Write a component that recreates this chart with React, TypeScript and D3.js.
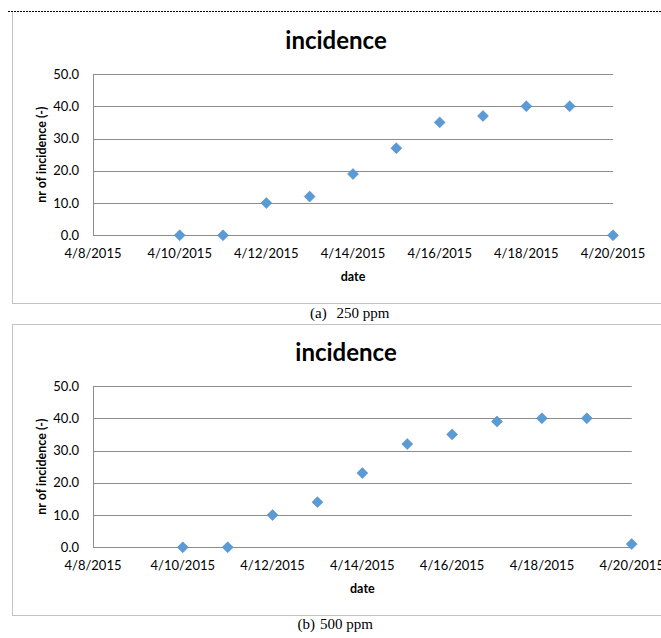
import React from "react";
import * as d3 from "d3";

const dates = ["2015-04-10","2015-04-11","2015-04-12","2015-04-13","2015-04-14","2015-04-15","2015-04-16","2015-04-17","2015-04-18","2015-04-19","2015-04-20"];
const values250 = [0, 0, 10, 12, 19, 27, 35, 37, 40, 40, 0];
const values500 = [0, 0, 10, 14, 23, 32, 35, 39, 40, 40, 1];
const xTickDates = ["2015-04-08","2015-04-10","2015-04-12","2015-04-14","2015-04-16","2015-04-18","2015-04-20"];
const yTicks = [0, 10, 20, 30, 40, 50];
const titleText = "incidence";
const yLabelText = "nr of incidence (-)";
const xLabelText = "date";
const captionLetters = ["(a)", "(b)"];
const captionTexts = ["250 ppm", "500 ppm"];

const parse = d3.timeParse("%Y-%m-%d");
const fmt = (d: Date) => `${d.getMonth() + 1}/${d.getDate()}/${d.getFullYear()}`;
const FONT = "Lato, 'Open Sans', sans-serif";
const SERIF = "'Liberation Serif', 'Times New Roman', serif";
const GRID = "#8c8c8c";
const FRAME = "#c4c4c4";
const MARK = "#5B9BD5";

type PanelProps = {
  values: number[];
  x0: number; x1: number; yTop: number; yBot: number;
  titleX: number;
};

function Panel({ values, x0, x1, yTop, yBot, titleX }: PanelProps) {
  const x = d3.scaleTime().domain([parse("2015-04-08")!, parse("2015-04-20")!]).range([x0, x1]);
  const y = d3.scaleLinear().domain([0, 50]).range([yBot, yTop]);
  const sym = d3.symbol().type(d3.symbolSquare).size(60)();
  return (
    <g>
      <text x={titleX} y={yTop - 25} textAnchor="middle" fontFamily={FONT} fontWeight="bold" fontSize={24} fill="#000">{titleText}</text>
      {yTicks.map((t) => (
        <g key={t}>
          {t > 0 && <line x1={x0} x2={x1} y1={Math.round(y(t)) + 0.5} y2={Math.round(y(t)) + 0.5} stroke={GRID} strokeWidth={1} />}
          <text x={79} y={y(t)} dy="0.35em" textAnchor="end" fontFamily={FONT} fontSize={13} fill="#000">{t.toFixed(1)}</text>
        </g>
      ))}
      <line x1={x0 + 0.5} x2={x0 + 0.5} y1={yTop} y2={yBot} stroke={GRID} strokeWidth={1} />
      <line x1={x0} x2={x1} y1={Math.round(yBot) + 0.5} y2={Math.round(yBot) + 0.5} stroke={GRID} strokeWidth={1} />
      {xTickDates.map((s) => {
        const d = parse(s)!;
        return <text key={s} x={x(d)} y={yBot + 23} textAnchor="middle" fontFamily={FONT} fontSize={13} fill="#000">{fmt(d)}</text>;
      })}
      <text x={(x0 + x1) / 2} y={yBot + 46} textAnchor="middle" fontFamily={FONT} fontWeight="bold" fontSize={12.5} fill="#000">{xLabelText}</text>
      <text transform={`translate(46,${(yTop + yBot) / 2}) rotate(-90)`} textAnchor="middle" fontFamily={FONT} fontWeight="bold" fontSize={12.5} fill="#000">{yLabelText}</text>
      {values.map((v, i) => (
        <path key={i} d={sym as string} transform={`translate(${x(parse(dates[i])!)},${y(v)}) rotate(45)`} fill={MARK} stroke="#4a86c5" strokeWidth={0.5} />
      ))}
    </g>
  );
}

export default function App() {
  return (
    <svg width={661} height={638} style={{ position: "absolute", left: 0, top: 0, background: "#fff" }}>
      <rect x={0} y={0} width={661} height={638} fill="#fff" />
      <line x1={8} x2={661} y1={11.5} y2={11.5} stroke="#000" strokeWidth={1} strokeDasharray="2,1" />
      <line x1={12.5} x2={12.5} y1={12} y2={303.5} stroke={FRAME} />
      <line x1={12} x2={661} y1={303.5} y2={303.5} stroke={FRAME} />
      <line x1={12} x2={661} y1={324.5} y2={324.5} stroke={FRAME} />
      <line x1={12.5} x2={12.5} y1={324.5} y2={615.5} stroke={FRAME} />
      <line x1={12} x2={661} y1={615.5} y2={615.5} stroke={FRAME} />
      <Panel values={values250} x0={93} x1={613} yTop={74} yBot={235.3} titleX={336} />
      <Panel values={values500} x0={93} x1={631.7} yTop={386} yBot={547.3} titleX={346} />
      <text x={310} y={317.5} fontFamily={SERIF} fontSize={15} fill="#000">{captionLetters[0]}</text>
      <text x={336.5} y={317.5} fontFamily={SERIF} fontSize={15} fill="#000">{captionTexts[0]}</text>
      <text x={297.5} y={628.5} fontFamily={SERIF} fontSize={15} fill="#000">{captionLetters[1]}</text>
      <text x={320} y={628.5} fontFamily={SERIF} fontSize={15} fill="#000">{captionTexts[1]}</text>
    </svg>
  );
}
